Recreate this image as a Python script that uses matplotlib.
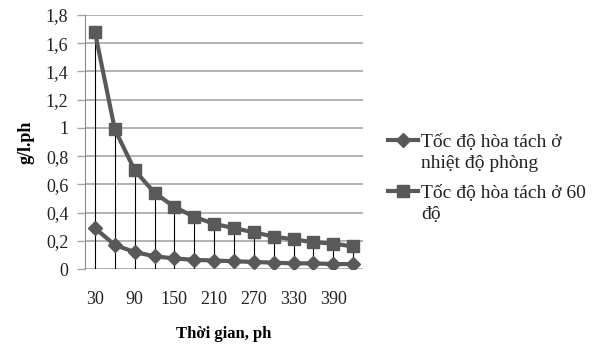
import numpy as np
import matplotlib.pyplot as plt
from matplotlib.lines import Line2D

# thời gian (phút)
times = [30, 60, 90, 120, 150, 180, 210, 240, 270, 300, 330, 360, 390, 420]
room_temp = [0.29, 0.17, 0.12, 0.09, 0.075, 0.065, 0.06, 0.055, 0.05, 0.045, 0.04, 0.04, 0.035, 0.035]
temp_60 = [1.68, 0.99, 0.70, 0.54, 0.44, 0.37, 0.32, 0.29, 0.26, 0.23, 0.21, 0.19, 0.18, 0.16]
y_ticks = [0, 0.2, 0.4, 0.6, 0.8, 1.0, 1.2, 1.4, 1.6, 1.8]

label_room = ['Tốc độ hòa tách ở', 'nhiệt độ phòng']
label_60 = ['Tốc độ hòa tách ở 60', 'độ']

plt.rcParams['font.family'] = ['Liberation Serif', 'DejaVu Serif']

fig = plt.figure(figsize=(5.96, 3.55), dpi=100)
ax = fig.add_axes([85 / 596, 86 / 355, 278 / 596, 254 / 355])

x = np.arange(len(times))
grey = '#595959'

# drop lines
top = np.maximum(room_temp, temp_60)
ax.vlines(x, 0, top, colors='black', linewidth=0.8, zorder=2)

l1, = ax.plot(x, room_temp, color=grey, linewidth=3, marker='D', markersize=7, zorder=3)
l2, = ax.plot(x, temp_60, color=grey, linewidth=3, marker='s', markersize=9, zorder=3)

ax.set_xlim(-0.5, len(times) - 0.5)
ax.set_ylim(0, 1.8)
ax.set_yticks(y_ticks)
ax.set_yticklabels([('%g' % v).replace('.', ',') for v in y_ticks])
ax.set_xticks(x[::2])
ax.set_xticklabels([str(t) for t in times[::2]])
ax.tick_params(axis='x', length=0, pad=16, labelsize=13, colors='#222222')
ax.tick_params(axis='y', length=6, width=1, color='#a6a6a6', pad=6,
               labelsize=13, colors='#222222')
ax.grid(axis='y', color='#a6a6a6', linewidth=1.2)
ax.set_axisbelow(True)

for side in ['top', 'right', 'bottom']:
    ax.spines[side].set_visible(False)
ax.spines['left'].set_color('#8c8c8c')

ax.set_xlabel('Thời gian, ph', fontsize=12, fontweight='bold', labelpad=13)
ax.set_ylabel('g/l.ph', fontsize=13, fontweight='bold', labelpad=8)

# legend: handle sits on the first line of each wrapped label
blank = Line2D([], [], linestyle='none')
legend_kw = dict(loc='upper left', frameon=False, fontsize=14, handlelength=1.55,
                 handletextpad=0.15, labelspacing=0.22, borderpad=0,
                 borderaxespad=0, labelcolor='#222222')
fig.legend([l1, blank], label_room, bbox_to_anchor=(388 / 596, 1 - 133 / 355), **legend_kw)
fig.legend([l2, blank], label_60, bbox_to_anchor=(388 / 596, 1 - 184 / 355), **legend_kw)

plt.savefig('out.png', dpi=100)
